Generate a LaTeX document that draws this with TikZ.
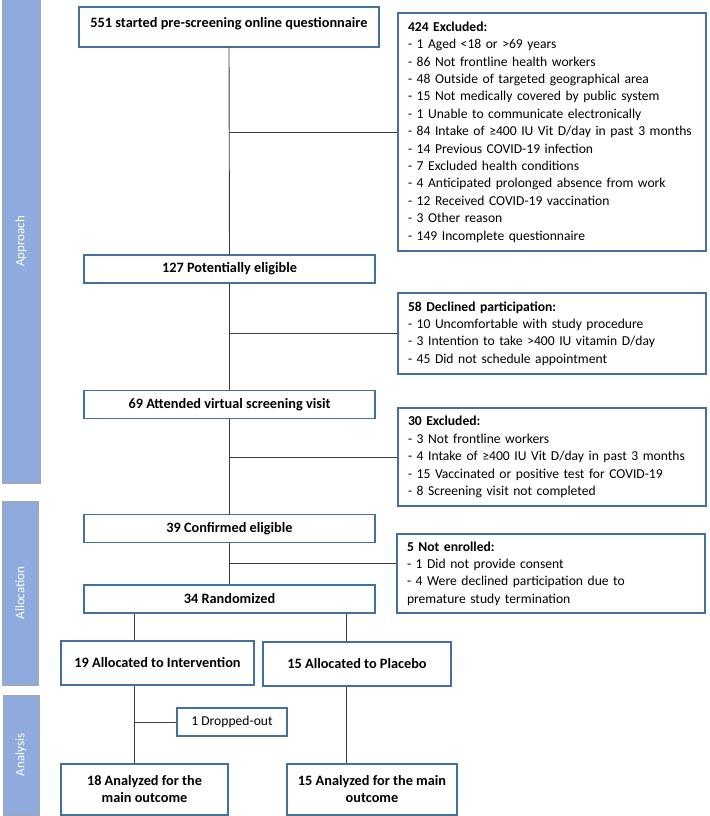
\documentclass[tikz,border=0pt]{standalone}
\usepackage{fontspec}
\setmainfont{Carlito}
\usetikzlibrary{positioning,calc}
\definecolor{boxblue}{RGB}{65,113,156}
\definecolor{barblue}{RGB}{143,170,220}
\definecolor{bargray}{RGB}{166,166,166}
\definecolor{linegray}{RGB}{60,60,60}

\begin{document}
\begin{tikzpicture}[x=1pt,y=-1pt,
    box/.style={draw=boxblue,line width=1.2pt,inner sep=0pt,align=center,minimum width=291pt,minimum height=28pt,font=\fontsize{14.3}{17}\selectfont\bfseries},
    excl/.style={draw=boxblue,line width=1.2pt,inner xsep=10pt,inner ysep=0pt,align=left,text width=288pt,font=\fontsize{13.6}{17.4}\selectfont},
    phase/.style={draw=bargray,fill=barblue,line width=1pt,rotate=90,inner sep=0pt,text=white,font=\fontsize{13}{15}\selectfont},
    link/.style={draw=linegray,line width=0.9pt}]
    \useasboundingbox (0,0) rectangle (709,816);

    \node[phase, minimum width=483pt, minimum height=38pt] (approach) at (21,241.5) {Approach};
    \node[phase, minimum width=184pt, minimum height=36pt] (alloc)    at (20,593)   {Allocation};
    \node[phase, minimum width=120pt, minimum height=36pt] (analysis) at (21,755)   {Analysis};

    \node[box, minimum width=300pt, minimum height=40pt, text depth=9pt] (start) at (229,27) {551 started pre-screening online questionnaire};
    \node[box] (elig)  at (229.5,269)   {127 Potentially eligible};
    \node[box] (visit) at (229.5,404.5) {69 Attended virtual screening visit};
    \node[box] (conf)  at (229.5,528.5) {39 Confirmed eligible};
    \node[box] (rand)  at (229.5,599)   {34 Randomized};

    \node[box, minimum width=193pt, minimum height=44pt] (interv) at (157.5,663) {19 Allocated to Intervention};
    \node[box, minimum width=188pt, minimum height=44pt] (plac)   at (357,664)   {15 Allocated to Placebo};
    \node[box, minimum width=110pt, font=\fontsize{13.6}{17}\selectfont] (drop) at (232,722) {1 Dropped-out};
    \node[box, minimum width=167pt, minimum height=51pt] (anint)  at (144.5,789.5) {18 Analyzed for the\\main outcome};
    \node[box, minimum width=170pt, minimum height=51pt] (anplac) at (372,789.5)   {15 Analyzed for the main\\outcome};

    \node[excl, minimum height=238pt] (excl1) at (552,132) {\textbf{424 Excluded:}\\
        - 1 Aged <18 or >69 years\\
        - 86 Not frontline health workers\\
        - 48 Outside of targeted geographical area\\
        - 15 Not medically covered by public system\\
        - 1 Unable to communicate electronically\\
        - 84 Intake of ≥400 IU Vit D/day in past 3 months\\
        - 14 Previous COVID-19 infection\\
        - 7 Excluded health conditions\\
        - 4 Anticipated prolonged absence from work\\
        - 12 Received COVID-19 vaccination\\
        - 3 Other reason\\
        - 149 Incomplete questionnaire};
    \node[excl, minimum height=81pt] (decl) at (552,333.5) {\textbf{58 Declined participation:}\\
        - 10 Uncomfortable with study procedure\\
        - 3 Intention to take >400 IU vitamin D/day\\
        - 45 Did not schedule appointment};
    \node[excl, minimum height=98pt] (excl2) at (552,457) {\textbf{30 Excluded:}\\
        - 3 Not frontline workers\\
        - 4 Intake of ≥400 IU Vit D/day in past 3 months\\
        - 15 Vaccinated or positive test for COVID-19\\
        - 8 Screening visit not completed};
    \node[excl, minimum height=79pt] (notenr) at (551,573.5) {\textbf{5 Not enrolled:}\\
        - 1 Did not provide consent\\
        - 4 Were declined participation due to\\
        premature study termination};

    \coordinate (li) at (134,0);
    \coordinate (ri) at (346,0);
    \coordinate (mid) at ($(conf.south)!.5!(rand.north)$);

    \path[link] (start.south) edge (elig.north)
    (elig.south)  edge (visit.north)
    (visit.south) edge (conf.north)
    (conf.south)  edge (rand.north)
    (start.south |- excl1.west) edge (excl1.west)
    (elig.south |- decl.west)   edge (decl.west)
    (visit.south |- excl2.west) edge (excl2.west)
    (mid) edge (mid -| notenr.west);

    \path[link] (li |- rand.south) edge (li |- interv.north)
    (li |- interv.south) edge (li |- anint.north)
    (li |- drop.west) edge (drop.west)
    (ri |- rand.south) edge (ri |- plac.north)
    (ri |- plac.south) edge (ri |- anplac.north);
\end{tikzpicture}
\end{document}
